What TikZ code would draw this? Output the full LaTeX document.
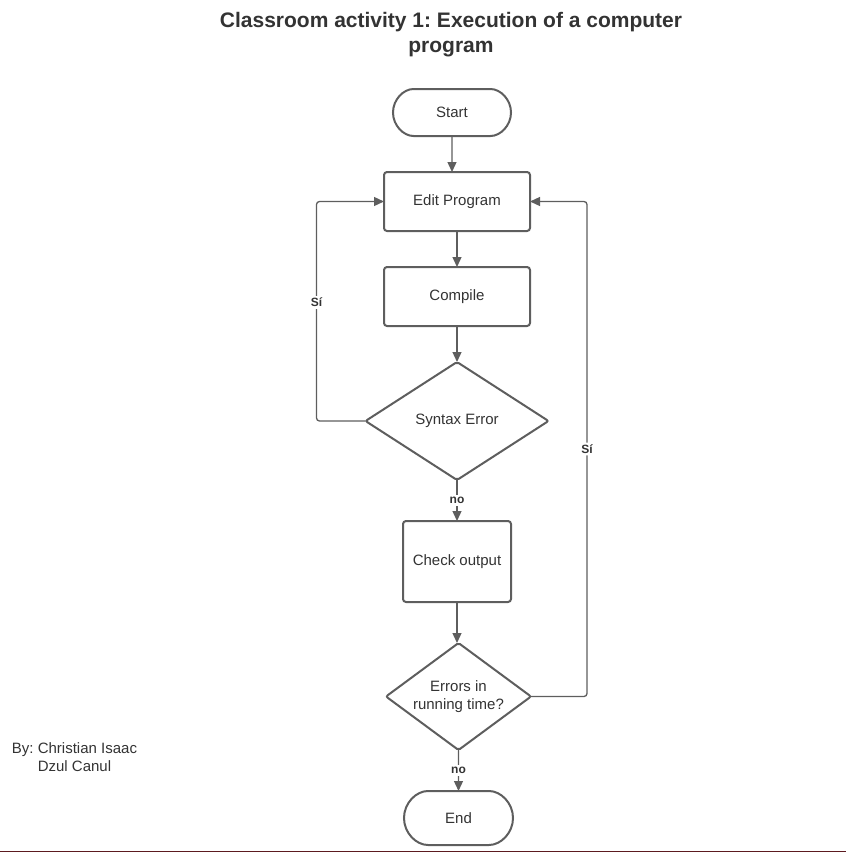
\documentclass[tikz,border=0pt]{standalone}
\usepackage{fontspec}
\setmainfont{Liberation Sans}
\usetikzlibrary{arrows.meta,positioning,shapes.geometric,shapes.misc}
\definecolor{FlowLine}{HTML}{5E5E5E}
\definecolor{FlowText}{HTML}{333333}
\definecolor{FlowEdge}{HTML}{5C1A1F}
\tikzset{
  box/.style={draw=FlowLine,line width=2pt,rounded corners=3pt,text=FlowText,font=\fontsize{15}{18}\selectfont,inner sep=0pt,outer sep=0pt,align=center},
  terminal/.style={box,rounded rectangle},
  decision/.style={box,diamond,rounded corners=2pt},
  flow/.style={draw=FlowLine,line width=1.3pt,-{Triangle[length=10pt,width=9pt]}},
  answer/.style={fill=white,text=FlowText,font=\fontsize{12}{14}\selectfont\bfseries,inner sep=2pt},
  heading/.style={text=FlowText,font=\fontsize{21}{25}\selectfont\bfseries,align=center},
  credit/.style={text=FlowText,font=\fontsize{15}{18}\selectfont,align=center}
}
\frenchspacing

\begin{document}
\begin{tikzpicture}[x=1pt,y=-1pt]
  \useasboundingbox (0,0) rectangle (846,852);
  \node[heading] (title) at (451,35) {Classroom activity 1: Execution of a computer\\program};
  \node[terminal,minimum width=118pt,minimum height=47pt] (start) at (452,112.5) {Start};
  \node[box,minimum width=146pt,minimum height=59pt,below=36pt of start,xshift=5pt] (edit) {Edit Program};
  \node[box,minimum width=146pt,minimum height=59pt,below=36pt of edit] (compile) {Compile};
  \node[decision,minimum width=183pt,minimum height=118pt,aspect=1.55,below=36pt of compile] (syntax) {Syntax Error};
  \node[box,minimum width=108pt,minimum height=81pt,below=41pt of syntax] (check) {Check output};
  \node[decision,minimum width=145pt,minimum height=107pt,aspect=1.35,below=41pt of check,xshift=1.5pt] (runerr) {Errors in\\running time?};
  \node[terminal,minimum width=109pt,minimum height=54pt,below=41pt of runerr] (end) {End};
  \node[credit] (author) at (74.5,757) {By: Christian Isaac\\Dzul Canul};
  % main flow
  \draw[flow] (start) -- (start |- edit.north);
  \draw[flow] (edit) -- (compile);
  \draw[flow] (compile) -- (syntax);
  \draw[flow] (syntax) -- node[answer]{no} (check);
  \draw[flow] (check) -- (check |- runerr.north);
  \draw[flow] (runerr) -- node[answer]{no} (end);
  % loops back to editing
  \draw[flow,rounded corners=3pt] (syntax.west) -- ++(-49,0) |- node[answer,pos=0.27]{Sí} (edit.west);
  \draw[flow,rounded corners=3pt] (runerr.east) -- ++(56,0) |- node[answer,pos=0.25]{Sí} (edit.east);
  \draw[FlowEdge,line width=1pt] (0,851.5) -- (846,851.5);
\end{tikzpicture}
\end{document}
